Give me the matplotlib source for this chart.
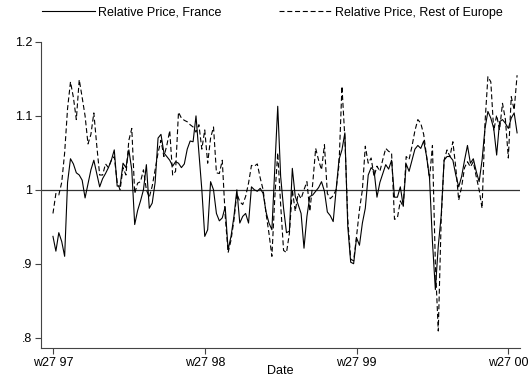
import matplotlib
matplotlib.use("Agg")
import matplotlib.pyplot as plt
from matplotlib.lines import Line2D

# weekly relative prices, week 27 1997 onwards
france = [
    0.937, 0.917, 0.942, 0.930, 0.910, 1.010, 1.042, 1.035, 1.023, 1.020,
    1.013, 0.989, 1.008, 1.027, 1.040, 1.022, 1.004, 1.015, 1.022, 1.030,
    1.040, 1.054, 1.005, 1.005, 1.036, 1.030, 1.054, 1.027, 0.953, 0.972,
    0.985, 1.000, 1.034, 0.975, 0.982, 1.010, 1.070, 1.075, 1.050, 1.045,
    1.040, 1.032, 1.038, 1.036, 1.030, 1.035, 1.055, 1.066, 1.065, 1.100,
    1.050, 1.000, 0.937, 0.946, 1.011, 1.000, 0.968, 0.958, 0.962, 0.977,
    0.919, 0.937, 0.964, 1.000, 0.955, 0.964, 0.968, 0.955, 1.004, 1.000,
    0.998, 1.002, 0.995, 0.970, 0.955, 0.946, 1.030, 1.113, 1.018, 0.975,
    0.942, 0.944, 1.029, 0.991, 0.980, 0.968, 0.921, 0.964, 0.991, 0.993,
    0.998, 1.003, 1.011, 0.998, 0.970, 0.965, 0.957, 1.000, 1.041, 1.054,
    1.077, 0.950, 0.902, 0.900, 0.935, 0.925, 0.955, 0.975, 1.020, 1.030,
    1.026, 0.990, 1.010, 1.022, 1.034, 1.028, 1.040, 0.990, 0.990, 1.004,
    0.978, 1.035, 1.025, 1.040, 1.055, 1.060, 1.056, 1.066, 1.045, 1.016,
    0.930, 0.865, 0.924, 0.965, 1.040, 1.045, 1.045, 1.040, 1.020, 1.004,
    1.018, 1.040, 1.060, 1.036, 1.042, 1.025, 1.011, 1.040, 1.083, 1.106,
    1.097, 1.083, 1.047, 1.092, 1.095, 1.090, 1.083, 1.097, 1.104, 1.077,
]
europe = [
    0.968, 0.995, 0.993, 1.010, 1.050, 1.110, 1.146, 1.125, 1.095, 1.149,
    1.125, 1.100, 1.062, 1.075, 1.104, 1.060, 1.020, 1.020, 1.035, 1.030,
    1.040, 1.045, 1.010, 1.000, 1.030, 1.020, 1.067, 1.083, 0.995, 1.009,
    1.011, 1.027, 1.000, 0.990, 1.005, 1.027, 1.050, 1.067, 1.045, 1.060,
    1.080, 1.020, 1.025, 1.105, 1.097, 1.094, 1.092, 1.088, 1.085, 1.078,
    1.088, 1.055, 1.081, 1.036, 1.070, 1.085, 1.023, 1.022, 1.040, 0.965,
    0.915, 0.932, 0.959, 0.995, 0.984, 0.980, 0.991, 1.009, 1.033, 1.032,
    1.035, 1.016, 1.000, 0.968, 0.941, 0.910, 0.990, 1.050, 0.980, 0.918,
    0.915, 0.941, 1.000, 0.971, 0.995, 0.988, 1.000, 1.011, 0.971, 1.009,
    1.056, 1.040, 1.027, 1.061, 0.995, 0.988, 0.992, 1.000, 1.034, 1.140,
    1.070, 0.960, 0.906, 0.904, 0.937, 0.973, 1.000, 1.059, 1.036, 1.043,
    1.018, 1.032, 1.025, 1.041, 1.056, 1.052, 1.050, 0.960, 0.962, 0.985,
    0.977, 1.045, 1.041, 1.059, 1.080, 1.095, 1.090, 1.075, 1.045, 1.015,
    1.060, 0.900, 0.809, 0.960, 1.040, 1.054, 1.045, 1.065, 1.030, 0.986,
    1.004, 1.030, 1.038, 1.031, 1.038, 1.018, 1.000, 0.975, 1.090, 1.153,
    1.146, 1.080, 1.101, 1.081, 1.117, 1.095, 1.043, 1.126, 1.108, 1.155,
]
tick_weeks = [0, 52, 104, 156]
tick_labels = ["w27 97", "w27 98", "w27 99", "w27 00"]
y_ticks = [0.8, 0.9, 1.0, 1.1, 1.2]
y_labels = [".8", ".9", "1", "1.1", "1.2"]

plt.rcParams["font.family"] = ["Liberation Sans", "DejaVu Sans"]

fig = plt.figure(figsize=(5.29, 3.78), dpi=100)
ax = fig.add_axes([0.0775, 0.0794, 0.9055, 0.8096])

weeks = list(range(len(france)))
ax.axhline(1.0, color="#333333", lw=0.9, zorder=1)
ax.plot(weeks, france, color="black", lw=0.8, zorder=3)
ax.plot(weeks, europe, color="black", lw=0.8, dashes=(4.5, 2.5), zorder=2)

ax.set_xlim(-4.1, 160)
ax.set_ylim(0.786, 1.2)
ax.set_xticks(tick_weeks)
ax.set_xticklabels(tick_labels)
ax.set_yticks(y_ticks)
ax.set_yticklabels(y_labels)
ax.tick_params(axis="both", labelsize=9, length=4.5, width=0.8, color="#444444", pad=2)
ax.set_xlabel("Date", fontsize=9, labelpad=-3)

for side in ["top", "right"]:
    ax.spines[side].set_visible(False)
for side in ["left", "bottom"]:
    ax.spines[side].set_color("#444444")
    ax.spines[side].set_linewidth(0.8)

# legend across the top
handles = [Line2D([], [], color="black", lw=0.8),
           Line2D([], [], color="black", lw=0.8, dashes=(4.5, 2.5))]
fig.legend(handles, ["Relative Price, France", "Relative Price, Rest of Europe"],
           loc="center left", bbox_to_anchor=(0.0794, 0.966), ncol=2, frameon=False,
           fontsize=9, handlelength=4.2, handletextpad=0.3, columnspacing=4.6,
           borderaxespad=0, borderpad=0)

fig.savefig("out.png", dpi=100)
